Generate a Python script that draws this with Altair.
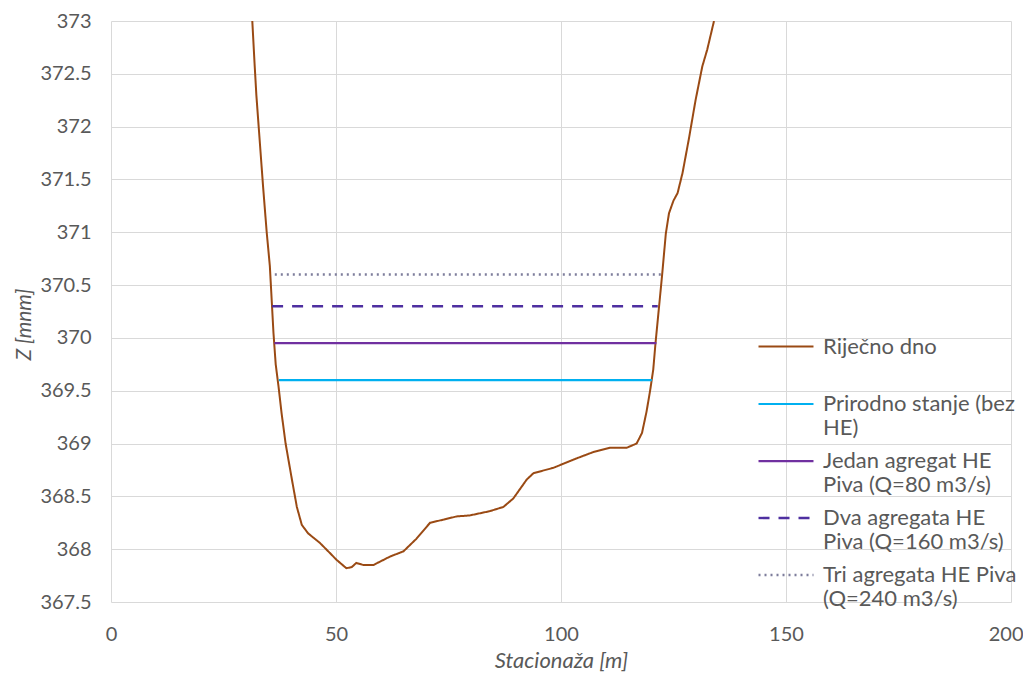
import altair as alt
import pandas as pd

# River bed profile (Stacionaža [m], Z [mnm])
bed_x = [31.4, 31.9, 32.3, 33.8, 34.6, 35.3, 36.1, 36.6, 37.2, 37.9, 38.8, 40.2, 41.3,
         42.4, 43.8, 46.4, 48.5, 50.1, 52.3, 53.5, 54.5, 56.1, 58.3, 62.0, 65.0, 67.9,
         70.9, 73.9, 76.8, 79.8, 84.2, 87.2, 89.4, 92.4, 93.9, 98.3, 103.5, 107.2,
         110.9, 114.6, 116.8, 118.0, 119.0, 119.8, 120.5, 121.0, 121.8, 122.5, 123.3,
         124.0, 125.0, 125.9, 127.0, 128.4, 129.9, 131.4, 132.5, 134.0]
bed_z = [373.0, 372.6, 372.3, 371.43, 371.0, 370.68, 370.05, 369.75, 369.55, 369.29,
         369.0, 368.66, 368.4, 368.23, 368.15, 368.06, 367.97, 367.9, 367.82, 367.83,
         367.87, 367.85, 367.85, 367.93, 367.98, 368.1, 368.25, 368.28, 368.31, 368.32,
         368.36, 368.4, 368.48, 368.66, 368.72, 368.77, 368.86, 368.92, 368.96, 368.96,
         369.0, 369.1, 369.3, 369.5, 369.7, 369.95, 370.3, 370.61, 370.99, 371.18,
         371.3, 371.37, 371.56, 371.88, 372.25, 372.57, 372.73, 373.0]

series = ["Riječno dno", "Prirodno stanje (bez HE)", "Jedan agregat HE Piva (Q=80 m3/s)",
          "Dva agregata HE Piva (Q=160 m3/s)", "Tri agregata HE Piva (Q=240 m3/s)"]
label_lines = [["Riječno dno", " "], ["Prirodno stanje (bez", "HE)"],
               ["Jedan agregat HE", "Piva (Q=80 m3/s)"],
               ["Dva agregata HE", "Piva (Q=160 m3/s)"],
               ["Tri agregata HE Piva", "(Q=240 m3/s)"]]

# Water levels: start x, end x, level
level_z = [369.6, 369.95, 370.3, 370.6]
level_x0 = [37.3, 36.3, 35.8, 36.4]
level_x1 = [120.2, 121.2, 121.5, 122.7]

colors = ["#9A4A14", "#00B0F0", "#7030A0", "#4E2FA0", "#7E7E9C"]
dashes = [[1, 0], [1, 0], [1, 0], [11, 9], [2, 4]]
widths = [2, 2.5, 2.5, 2.5, 2]

rows = [{"s": series[0], "x": x, "z": z, "o": i} for i, (x, z) in enumerate(zip(bed_x, bed_z))]
for k in range(4):
    rows.append({"s": series[k + 1], "x": level_x0[k], "z": level_z[k], "o": 0})
    rows.append({"s": series[k + 1], "x": level_x1[k], "z": level_z[k], "o": 1})
df = pd.DataFrame(rows)

def js_arr(lines):
    return "[" + ",".join("'" + l + "'" for l in lines) + "]"

expr = "[datum.label, ' ']"
for s, l in zip(series, label_lines):
    expr = f"datum.label == '{s}' ? {js_arr(l)} : ({expr})"

legend = alt.Legend(title=None, orient="none", legendX=653, legendY=304,
                    symbolType="M-1.341,0L1.341,0", symbolSize=1681, symbolStrokeWidth=2.5,
                    symbolFillColor="transparent",
                    labelExpr=expr, labelLimit=400, labelOffset=15,
                    labelBaseline="middle", rowPadding=0,
                    labelFont="Lato", labelFontSize=22, labelColor="#595959")

chart = alt.Chart(df).mark_line(clip=True).encode(
    x=alt.X("x:Q", scale=alt.Scale(domain=[0, 200], nice=False),
            axis=alt.Axis(values=[0, 50, 100, 150, 200], title="Stacionaža [m]",
                          labelFlush=False, labelPadding=22, titleY=58,
                          titleBaseline="middle", titleFontSize=22,
                          labelAlign={"condition": {"test": "datum.value == 200", "value": "right"},
                                      "value": "center"},
                          labelOffset={"condition": {"test": "datum.value == 200", "value": 12},
                                       "value": 0})),
    y=alt.Y("z:Q", scale=alt.Scale(domain=[367.5, 373], nice=False, zero=False),
            axis=alt.Axis(values=[367.5 + 0.5 * i for i in range(12)], format=".1~f",
                          title="Z [mnm]", labelPadding=20, titleX=-87, titleY=303,
                          titleFontSize=21,
                          titleAngle=-90, titleAlign="center", titleBaseline="middle")),
    color=alt.Color("s:N", scale=alt.Scale(domain=series, range=colors), legend=legend),
    strokeDash=alt.StrokeDash("s:N", scale=alt.Scale(domain=series, range=dashes), legend=legend),
    strokeWidth=alt.StrokeWidth("s:N", scale=alt.Scale(domain=series, range=widths), legend=None),
    order="o:Q",
).properties(
    width=900, height=581,
    autosize=alt.AutoSizeParams(type="none"),
    padding={"left": 103, "top": 13, "right": 12, "bottom": 72},
).configure(
    style={"guide-label": {"lineHeight": 24}}
).configure_view(stroke=None).configure_axis(
    domain=False, ticks=False, grid=True, gridColor="#D9D9D9", gridWidth=1,
    labelFont="Lato", labelFontSize=20, labelColor="#595959",
    titleFont="Lato", titleFontStyle="italic",
    titleFontWeight="normal", titleColor="#595959",
).configure_legend(padding=0)

chart.save("out.html", embed_options={"renderer": "svg", "actions": False})
